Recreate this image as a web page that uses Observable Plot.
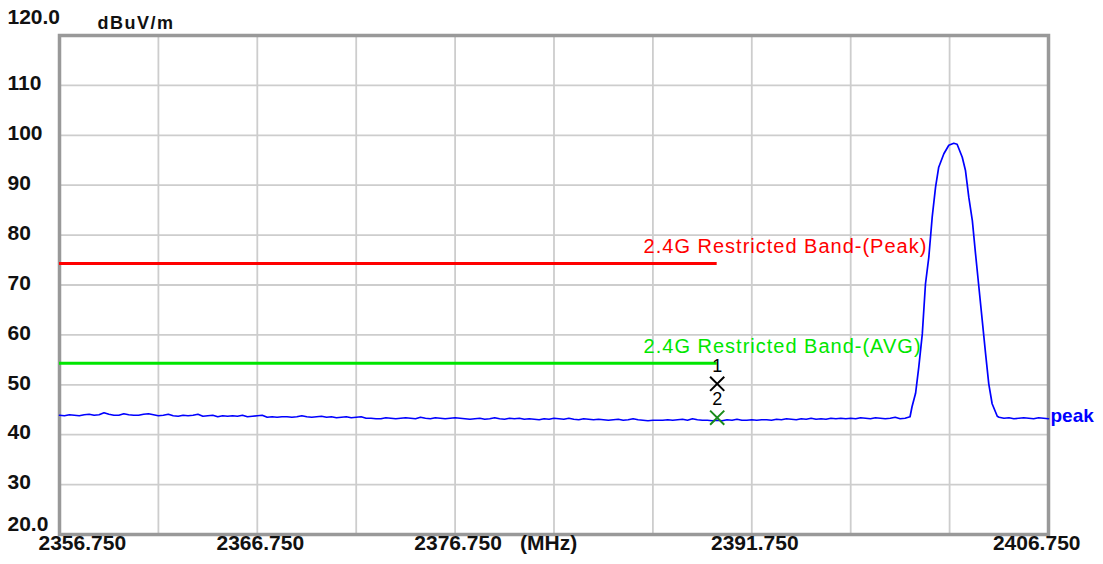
<!DOCTYPE html>
<html><head><meta charset="utf-8">
<script src="https://cdn.jsdelivr.net/npm/d3@7"></script>
<script src="https://cdn.jsdelivr.net/npm/@observablehq/plot@0.6"></script>
<style>html,body{margin:0;padding:0;background:#fff} svg{display:block}</style>
</head><body><div id="chart"></div>
<script>
// Noise floor of the trace, read every 0.25 MHz from 2356.75 to 2399.75 MHz (dBuV/m)
const noiseStart = 2356.75;
const noiseStep = 0.25;
const noiseLevels = [
  43.9, 43.8, 44.0, 43.9, 43.8, 44.0, 44.1, 43.9, 44.0, 44.4, 44.1, 43.9, 43.9, 44.2, 44.0, 43.9, 43.9, 44.1, 44.2, 44.0, 43.8,
  43.9, 44.1, 43.8, 43.7, 43.9, 43.8, 43.9, 44.1, 43.7, 43.8, 43.9, 43.6, 43.8, 43.7, 43.8, 43.7, 43.9, 43.6, 43.7, 43.8,
  43.9, 43.5, 43.6, 43.5, 43.6, 43.6, 43.5, 43.6, 43.8, 43.6, 43.5, 43.6, 43.7, 43.5, 43.6, 43.4, 43.5, 43.6, 43.4, 43.5,
  43.6, 43.3, 43.3, 43.2, 43.2, 43.4, 43.3, 43.2, 43.3, 43.4, 43.3, 43.2, 43.5, 43.3, 43.2, 43.4, 43.3, 43.2, 43.3, 43.4,
  43.3, 43.2, 43.1, 43.2, 43.3, 43.1, 43.2, 43.4, 43.2, 43.1, 43.3, 43.2, 43.3, 43.1, 43.2, 43.1, 43.0, 43.2, 43.1, 43.3,
  43.2, 43.1, 43.3, 43.1, 43.0, 43.2, 43.1, 43.0, 43.1, 43.0, 42.9, 43.0, 43.1, 42.9, 43.0, 43.2, 43.0, 42.9, 42.8, 42.9,
  42.9, 42.9, 43.0, 42.9, 43.0, 43.1, 42.9, 43.2, 43.0, 42.9, 42.9, 42.8, 42.9, 42.8, 43.0, 42.9, 43.1, 42.9, 42.9, 43.0,
  42.9, 43.0, 43.0, 42.9, 43.1, 43.0, 43.2, 43.1, 43.0, 43.2, 43.1, 43.3, 43.1, 43.2, 43.1, 43.3, 43.2, 43.3, 43.2, 43.3,
  43.2, 43.4, 43.3, 43.2, 43.4, 43.3, 43.2, 43.3, 43.5, 43.2, 43.3, 43.6
];
// Carrier peak and tail of the trace
const peakFreqs = [2399.85, 2400.03, 2400.19, 2400.37, 2400.53, 2400.70, 2400.87, 2401.04, 2401.20, 2401.46, 2401.71, 2401.96,
  2402.13, 2402.39, 2402.55, 2402.72, 2402.90, 2403.06, 2403.23, 2403.40, 2403.57, 2403.73, 2403.90, 2404.16,
  2404.25, 2404.5, 2404.75, 2405.0, 2405.25, 2405.5, 2405.75, 2406.0, 2406.25, 2406.5, 2406.75];
const peakLevels = [45.6, 48.3, 53.5, 60.2, 70.2, 75.6, 83.6, 89.6, 93.6, 96.3, 98.0, 98.4,
  98.2, 95.6, 93.0, 87.6, 82.9, 76.3, 69.6, 62.9, 56.2, 50.2, 46.2, 43.7,
  43.5, 43.3, 43.4, 43.2, 43.3, 43.4, 43.3, 43.2, 43.4, 43.3, 43.2];

// Limit lines
const limitNames = ["2.4G Restricted Band-(Peak)", "2.4G Restricted Band-(AVG)"];
const limitLevels = [74.3, 54.3];
const limitColors = ["#ff0000", "#00e600"];
const limitFrom = 2356.75;
const limitTo = 2390;
const limitLabelAt = 2386.33;

// Markers
const markerNames = ["1", "2"];
const markerFreqs = [2390, 2390];
const markerLevels = [50.2, 43.4];
const markerColors = ["#000000", "#1a8c1a"];

// Axes
const yTicks = [120, 110, 100, 90, 80, 70, 60, 50, 40, 30, 20];
const yTickLabels = ["120.0", "110", "100", "90", "80", "70", "60", "50", "40", "30", "20.0"];
const xGridLines = [2361.75, 2366.75, 2371.75, 2376.75, 2381.75, 2386.75, 2391.75, 2396.75, 2401.75];
const xTicks = [2356.75, 2366.75, 2376.75, 2391.75, 2406.75];
const xTickLabels = ["2356.750", "2366.750", "2376.750", "2391.750", "2406.750"];
const yUnit = "dBuV/m";
const xUnit = "(MHz)";
const traceName = "peak";

// Build tables
const trace = noiseLevels.map((v, i) => ({f: noiseStart + i * noiseStep, v}))
  .concat(peakFreqs.map((f, i) => ({f, v: peakLevels[i]})));
const limits = limitNames.map((name, i) => ({name, level: limitLevels[i], color: limitColors[i]}));
const markers = markerNames.map((name, i) => ({name, f: markerFreqs[i], v: markerLevels[i], color: markerColors[i]}));
const yt = yTicks.map((t, i) => ({t, label: yTickLabels[i]}));
const xt = xTicks.map((t, i) => ({t, label: xTickLabels[i]}));
const gridY = yTicks.slice(1, -1);

const font = "'Liberation Sans', Arial, sans-serif";
const tickStyle = {fontSize: 21, fontWeight: "bold", fill: "#111", fontFamily: font};

const chart = Plot.plot({
  width: 1103, height: 564,
  marginLeft: 59, marginRight: 55, marginTop: 35, marginBottom: 30,
  x: {domain: [2356.75, 2406.75], axis: null},
  y: {domain: [20, 120], axis: null},
  style: {fontFamily: font, background: "#fff"},
  marks: [
    Plot.ruleY(gridY, {stroke: "#cdcdcd", strokeWidth: 1.8}),
    Plot.ruleX(xGridLines, {stroke: "#cdcdcd", strokeWidth: 1.8}),
    Plot.frame({stroke: "#999999", strokeWidth: 3.5}),
    // limit lines
    Plot.ruleY(limits, {y: "level", x1: limitFrom, x2: limitTo, stroke: "color", strokeWidth: 3}),
    Plot.text(limits, {x: limitLabelAt, y: "level", text: "name", fill: "color", textAnchor: "start", dx: -1, dy: -17, fontSize: 20, fontFamily: font, className: "spaced"}),
    // trace
    Plot.line(trace, {x: "f", y: "v", stroke: "#0000ff", strokeWidth: 1.7}),
    Plot.text([traceName], {x: 2406.75, y: 43.3, text: d => d, fill: "#0000ff", textAnchor: "start", dx: 2, dy: -2, fontSize: 19, fontWeight: "bold", fontFamily: font}),
    // markers
    Plot.dot(markers, {x: "f", y: "v", symbol: "times", r: 6.5, stroke: "color", strokeWidth: 2}),
    Plot.text(markers, {x: "f", y: "v", text: "name", fill: "#000", dy: -18, fontSize: 18, fontFamily: font}),
    // y tick labels
    Plot.text(yt.filter(d => d.t !== 120 && d.t !== 20), {y: "t", text: "label", frameAnchor: "left", textAnchor: "start", dx: -52, dy: -2, ...tickStyle}),
    Plot.text(yt.filter(d => d.t === 120), {y: "t", text: "label", frameAnchor: "left", textAnchor: "start", dx: -52, dy: -18, ...tickStyle}),
    Plot.text(yt.filter(d => d.t === 20), {y: "t", text: "label", frameAnchor: "left", textAnchor: "start", dx: -52, dy: -10, ...tickStyle}),
    Plot.text([yUnit], {frameAnchor: "top-left", text: d => d, textAnchor: "start", dx: 38, dy: -19, fontSize: 18, fontWeight: "bold", fill: "#111", fontFamily: font, className: "unit"}),
    // x tick labels
    Plot.text(xt.slice(0, 1), {x: "t", text: "label", frameAnchor: "bottom", textAnchor: "start", dx: -21, dy: 15, ...tickStyle}),
    Plot.text(xt.slice(1, -1), {x: "t", text: "label", frameAnchor: "bottom", dx: 3, dy: 15, ...tickStyle}),
    Plot.text(xt.slice(-1), {x: "t", text: "label", frameAnchor: "bottom", textAnchor: "end", dx: 32, dy: 15, ...tickStyle}),
    Plot.text([xUnit], {x: 2376.75, text: d => d, frameAnchor: "bottom", textAnchor: "start", dx: 65, dy: 15, ...tickStyle})
  ]
});
d3.select(chart).selectAll("g.spaced text").style("letter-spacing", "1px");
d3.select(chart).selectAll("g.unit text").style("letter-spacing", "1.5px");
document.getElementById("chart").appendChild(chart);
</script>
</body></html>
